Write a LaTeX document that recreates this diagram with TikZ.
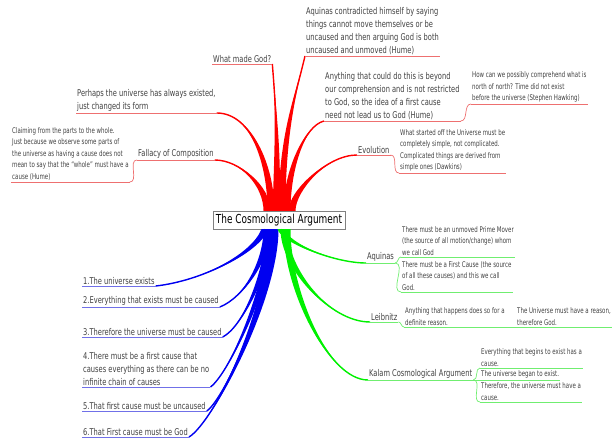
\documentclass[tikz,border=0pt]{standalone}
\usepackage{fontspec}
\usetikzlibrary{calc}
\newfontfamily\mapfont[FakeStretch=0.72]{DejaVu Sans}
\newfontfamily\smallfont[FakeStretch=0.7]{DejaVu Sans}

\definecolor{txt}{HTML}{404040}
\definecolor{redbr}{HTML}{FF0000}
\definecolor{bluebr}{HTML}{0000F0}
\definecolor{greenbr}{HTML}{00F000}
\definecolor{redul}{HTML}{EE7070}
\definecolor{blueul}{HTML}{7070E8}
\definecolor{greenul}{HTML}{70EE70}

% tapered branch: colour, start anchor, start shift, start control, end control, end anchor
\newcommand\limb[6]{%
  \fill[#1] ($(#2)+(#3)+(-3.5,0)$) .. controls ($(#2)+(#3)+(#4)+(-3.5,0)$) and ($(#6)+(#5)$) .. (#6)
    .. controls ($(#6)+(#5)$) and ($(#2)+(#3)+(#4)+(3.5,0)$) .. ($(#2)+(#3)+(3.5,0)$) -- cycle;
  \draw[#1, line width=1.4pt] ($(#2)+(#3)$) .. controls ($(#2)+(#3)+(#4)$) and ($(#6)+(#5)$) .. (#6);}

\tikzset{
  every node/.style={text=txt, inner xsep=1pt, inner ysep=1.5pt, align=left, anchor=south west},
  big/.style={font=\mapfont\fontsize{9.3}{13}\selectfont},
  small/.style={font=\smallfont\fontsize{7.8}{11.5}\selectfont},
  rootbox/.style={draw=gray, fill=white, anchor=center, text=black, inner xsep=3pt, inner ysep=3pt,
    font=\mapfont\fontsize{12.4}{14}\selectfont},
  redline/.style={draw=redul, line width=0.7pt},
  blueline/.style={draw=blueul, line width=0.7pt},
  greenline/.style={draw=greenul, line width=0.7pt}
}

\begin{document}
\begin{tikzpicture}[x=1pt,y=-1pt]
\useasboundingbox (0,0) rectangle (615,438);

\node[rootbox] (root) at (279,220) {The Cosmological Argument};

% objections (red)
\node[big] (wmg) at (212,64) {What made God?};
\node[big] (perhaps) at (76,113) {Perhaps the universe has always existed,\\just changed its form};
\node[big] (fallacy) at (137,160) {Fallacy of Composition};
\node[small] (claim) at (11,182) {Claiming from the parts to the whole.\\Just because we observe some parts of\\the universe as having a cause does not\\mean to say that the “whole” must have a\\cause (Hume)};
\node[big] (aqcon) at (305,56) {Aquinas contradicted himself by saying\\things cannot move themselves or be\\uncaused and then arguing God is both\\uncaused and unmoved (Hume)};
\node[big] (beyond) at (324,121) {Anything that could do this is beyond\\our comprehension and is not restricted\\to God, so the idea of a first cause\\need not lead us to God (Hume)};
\node[small] (hawking) at (471,104) {How can we possibly comprehend what is\\north of north? Time did not exist\\before the universe (Stephen Hawking)};
\node[big] (evol) at (357,155) {Evolution};
\node[small] (dawkins) at (399,173) {What started off the Universe must be\\completely simple, not complicated.\\Complicated things are derived from\\simple ones (Dawkins)};

% the argument (blue)
\node[big] (b1) at (82,286) {1.The universe exists};
\node[big] (b2) at (82,307) {2.Everything that exists must be caused};
\node[big] (b3) at (82,337) {3.Therefore the universe must be caused};
\node[big] (b4) at (82,387) {4.There must be a first cause that\\causes everything as there can be no\\infinite chain of causes};
\node[big] (b5) at (82,411) {5.That first cause must be uncaused};
\node[big] (b6) at (82,437) {6.That First cause must be God};

% versions (green)
\node[big] (aquinas) at (366,263) {Aquinas};
\node[small] (prime) at (401,257) {There must be an unmoved Prime Mover\\(the source of all motion/change) whom\\we call God};
\node[small] (firstc) at (401,292) {There must be a First Cause (the source\\of all these causes) and this we call\\God.};
\node[big] (leibnitz) at (370,322) {Leibnitz};
\node[small] (happens) at (404,327) {Anything that happens does so for a\\definite reason.};
\node[small] (ureason) at (516,327) {The Universe must have a reason,\\therefore God.};
\node[big] (kalam) at (368,380) {Kalam Cosmological Argument};
\node[small] (begins) at (480,368) {Everything that begins to exist has a\\cause.};
\node[small] (began) at (480,380) {The universe began to exist.};
\node[small] (thereforeu) at (480,402) {Therefore, the universe must have a\\cause.};

% branches
\limb{redbr}{root.north}{-3,0}{2,-60}{4,50}{wmg.south east}
\limb{redbr}{root.north}{-8,0}{0,-45}{35,0}{perhaps.south east}
\limb{redbr}{root.north}{-12,0}{0,-25}{25,0}{fallacy.south east}
\limb{redbr}{root.north}{3,0}{0,-80}{-8,35}{aqcon.south west}
\limb{redbr}{root.north}{8,0}{0,-40}{-20,5}{beyond.south west}
\limb{redbr}{root.north}{13,0}{0,-20}{-30,0}{evol.south west}

\limb{bluebr}{root.south}{-14,0}{-10,25}{45,-5}{b1.south east}
\limb{bluebr}{root.south}{-12,0}{0,30}{25,-10}{b2.south east}
\limb{bluebr}{root.south}{-10,0}{0,40}{20,-10}{b3.south east}
\limb{bluebr}{root.south}{-8,0}{0,50}{20,-15}{b4.south east}
\limb{bluebr}{root.south}{-6,0}{0,60}{20,-15}{b5.south east}
\limb{bluebr}{root.south}{-4,0}{0,70}{25,-15}{b6.south east}

\limb{greenbr}{root.south}{2,0}{5,15}{-30,0}{aquinas.south west}
\limb{greenbr}{root.south}{5,0}{0,40}{-40,0}{leibnitz.south west}
\limb{greenbr}{root.south}{8,0}{0,60}{-40,0}{kalam.south west}

% underlines and links
\foreach \n in {wmg,perhaps,fallacy,claim,aqcon,beyond,hawking,evol,dawkins}
  \draw[redline] (\n.south west) -- (\n.south east);
\draw[redline] (fallacy.south west) to[out=180,in=0] (claim.south east);
\draw[redline] (beyond.south east) to[out=0,in=180] (hawking.south west);
\draw[redline] (evol.south east) to[out=0,in=180] (dawkins.south west);

\foreach \n in {b1,b2,b3,b4,b5,b6}
  \draw[blueline] (\n.south west) -- (\n.south east);

\foreach \n in {aquinas,prime,firstc,leibnitz,happens,ureason,kalam,begins,began,thereforeu}
  \draw[greenline] (\n.south west) -- (\n.south east);
\draw[greenline] (aquinas.south east) to[out=0,in=180] (prime.south west);
\draw[greenline] (aquinas.south east) to[out=0,in=180] (firstc.south west);
\draw[greenline] (leibnitz.south east) to[out=0,in=180] (happens.south west);
\draw[greenline] (happens.south east) -- (ureason.south west);
\draw[greenline] (kalam.south east) to[out=0,in=180] (begins.south west);
\draw[greenline] (kalam.south east) to[out=0,in=180] (began.south west);
\draw[greenline] (kalam.south east) to[out=0,in=180] (thereforeu.south west);
\end{tikzpicture}
\end{document}
